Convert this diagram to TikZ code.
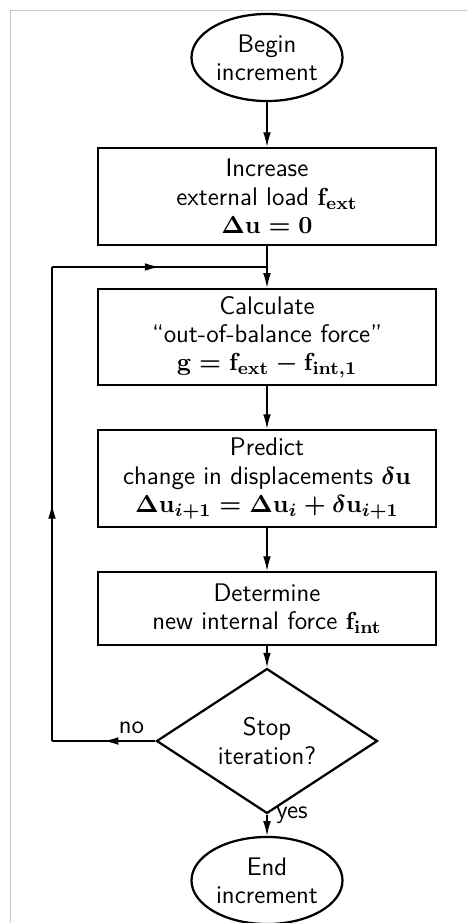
\documentclass[tikz,border=0pt]{standalone}
\usetikzlibrary{shapes.geometric,arrows.meta,decorations.markings}
\begin{document}
\begin{tikzpicture}[x=0.4444pt,y=-0.4444pt,
  every node/.style={font=\sffamily\fontsize{11.3pt}{12.6pt}\selectfont, align=center, inner sep=0pt},
  procbox/.style={draw, line width=1pt, rectangle, minimum width=150.2pt},
  termnode/.style={draw, line width=1pt, ellipse, minimum width=67.1pt, minimum height=38.7pt},
  decnode/.style={draw, line width=1pt, diamond, minimum width=98.2pt, minimum height=46.2pt},
  flow/.style={line width=0.55pt, -{Latex[length=6.5pt,width=3.4pt]}},
  midarrow/.style={line width=0.55pt, postaction={decorate},
    decoration={markings, mark=at position 0.5 with {\arrow{Latex[length=6.5pt,width=3.4pt]}}}},
  lbl/.style={font=\sffamily\fontsize{11.3pt}{12.6pt}\selectfont}
]
\useasboundingbox (0,0) rectangle (467,923);
% light frame
\draw[line width=0.65pt, black!22] (467,10.5) -- (10.5,10.5) -- (10.5,923);

\node[termnode] (begin) at (267,57.5) {Begin\\increment};
\node[procbox, minimum height=43.1pt] (inc) at (267,196.5)
  {Increase\\external load {\boldmath$\mathbf{f}_{\mathbf{ext}}$}\\{\boldmath$\Delta\mathbf{u}=0$}};
\node[procbox, minimum height=42.7pt] (calc) at (267,337)
  {Calculate\\“out-of-balance force”\\{\boldmath$\mathbf{g}=\mathbf{f}_{\mathbf{ext}}-\mathbf{f}_{\mathbf{int},1}$}};
\node[procbox, minimum height=43.1pt] (pred) at (267,478.5)
  {Predict\\change in displacements {\boldmath$\delta\mathbf{u}$}\\{\boldmath$\Delta\mathbf{u}_{i+1}=\Delta\mathbf{u}_{i}+\delta\mathbf{u}_{i+1}$}};
\node[procbox, minimum height=32.4pt] (det) at (267,608.5)
  {Determine\\new internal force {\boldmath$\mathbf{f}_{\mathbf{int}}$}};
\node[decnode] (stop) at (267,741) {Stop\\iteration?};
\node[termnode] (end) at (267,880.5) {End\\increment};

\coordinate (lb) at (52,741);
\coordinate (lt) at (52,267);
\coordinate (jn) at (267,267);

\draw[flow] (begin) -- (inc);
\draw[flow] (inc) -- (calc);
\draw[flow] (calc) -- (pred);
\draw[flow] (pred) -- (det);
\draw[flow] (det) -- (stop);
\draw[flow] (stop) -- (end);
\draw[midarrow] (stop.west) -- (lb);
\draw[midarrow] (lb) -- (lt);
\draw[midarrow] (lt) -- (jn);

\node[lbl] (nolbl) at (131.5,728) {no};
\node[lbl] (yeslbl) at (292,815) {yes};
\end{tikzpicture}
\end{document}
